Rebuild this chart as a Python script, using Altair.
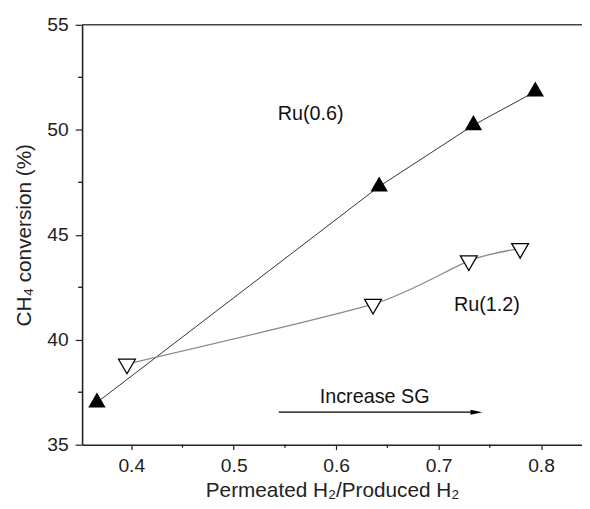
import altair as alt
import pandas as pd

# Data (marker centroids)
ru06_x = [0.3665, 0.642, 0.734, 0.7944]
ru06_y = [37.01, 47.30, 50.22, 51.82]
ru12_x = [0.3958, 0.636, 0.7295, 0.7796]
ru12_y = [38.84, 41.69, 43.76, 44.35]

x_ticks = [0.4, 0.5, 0.6, 0.7, 0.8]
x_minor = [0.45, 0.55, 0.65, 0.75]
y_ticks = [35, 40, 45, 50, 55]
y_minor = [37.5, 42.5, 47.5, 52.5]

labels = ["Ru(0.6)", "Ru(1.2)", "Increase SG"]
label_x = [0.543, 0.715, 0.584]
label_y = [50.76, 41.64, 37.26]

arrow_x = [0.544, 0.737]
arrow_y = [36.55, 36.55]

W, H = 506, 425
FONT = "Liberation Sans"

TRI_UP = "M0,-1.1547 L1,0.5774 L-1,0.5774 Z"
TRI_DOWN = "M0,1.1547 L1,-0.5774 L-1,-0.5774 Z"

xs = alt.Scale(domain=[0.352, 0.84], nice=False, zero=False)
ys = alt.Scale(domain=[35, 55], nice=False, zero=False)

d06 = pd.DataFrame({"x": ru06_x, "y": ru06_y})
d12 = pd.DataFrame({"x": ru12_x, "y": ru12_y})
dlab = pd.DataFrame({"x": label_x, "y": label_y, "t": labels})
darrow = pd.DataFrame({"x": arrow_x, "y": arrow_y})
dhead = pd.DataFrame({"x": [arrow_x[-1]], "y": [arrow_y[-1]]})
dxm = pd.DataFrame({"x": x_minor})
dym = pd.DataFrame({"y": y_minor})

xaxis = alt.Axis(values=x_ticks, format=".1f", grid=False, tickSize=5,
                 title="Permeated H₂/Produced H₂")
yaxis = alt.Axis(values=y_ticks, format="d", grid=False, tickSize=7,
                 title="CH₄ conversion (%)")

line06 = alt.Chart(d06).mark_line(color="#333333", strokeWidth=1).encode(
    x=alt.X("x:Q", scale=xs, axis=xaxis),
    y=alt.Y("y:Q", scale=ys, axis=yaxis),
)
line12 = alt.Chart(d12).mark_line(color="#8a8a8a", strokeWidth=1.3,
                                  interpolate="cardinal", tension=0.35).encode(
    x=alt.X("x:Q", scale=xs), y=alt.Y("y:Q", scale=ys))
pts06 = alt.Chart(d06).mark_point(shape=TRI_UP, size=310, filled=True,
                                  color="black", opacity=1).encode(
    x=alt.X("x:Q", scale=xs), y=alt.Y("y:Q", scale=ys))
pts12 = alt.Chart(d12).mark_point(shape=TRI_DOWN, size=290, filled=True,
                                  fill="white", stroke="black", strokeWidth=1.3,
                                  opacity=1).encode(
    x=alt.X("x:Q", scale=xs), y=alt.Y("y:Q", scale=ys))

texts = alt.Chart(dlab).mark_text(align="left", baseline="middle", fontSize=20,
                                  font=FONT, color="#111111").encode(
    x=alt.X("x:Q", scale=xs), y=alt.Y("y:Q", scale=ys), text="t:N")

arrow = alt.Chart(darrow).mark_line(color="black", strokeWidth=1.2).encode(
    x=alt.X("x:Q", scale=xs), y=alt.Y("y:Q", scale=ys))
head = alt.Chart(dhead).mark_point(shape="M -1,-0.42 L 1,0 L -1,0.42 Z", size=144,
                                   filled=True, color="black", opacity=1).encode(
    x=alt.X("x:Q", scale=xs), y=alt.Y("y:Q", scale=ys))

top_line = alt.Chart(pd.DataFrame({"y": [55]})).mark_rule(
    color="#444444", strokeWidth=1.6).encode(
    y=alt.Y("y:Q", scale=ys), x=alt.value(0), x2=alt.value(W))

xminor = alt.Chart(dxm).mark_rule(color="black", strokeWidth=1.2).encode(
    x=alt.X("x:Q", scale=xs), y=alt.value(H), y2=alt.value(H + 3))
yminor = alt.Chart(dym).mark_rule(color="black", strokeWidth=1.2).encode(
    y=alt.Y("y:Q", scale=ys), x=alt.value(-4), x2=alt.value(0))

chart = alt.layer(
    top_line, line06, line12, arrow, head, pts06, pts12, texts, xminor, yminor
).properties(
    width=W, height=H,
    autosize=alt.AutoSizeParams(type="none"),
    padding={"left": 75, "top": 14, "right": 0, "bottom": 55},
).configure_view(stroke=None).configure_axis(
    domainColor="#222222", domainWidth=1.6, tickColor="#222222", tickWidth=1.2,
    labelFont=FONT, labelFontSize=19.5, labelColor="#222222", labelPadding=7,
    titleFont=FONT, titleFontSize=21, titleFontWeight="normal", titleColor="#222222",
).configure_axisX(titlePadding=5).configure_axisY(titlePadding=13)

chart.save("out.html", embed_options={"renderer": "svg", "actions": False})
